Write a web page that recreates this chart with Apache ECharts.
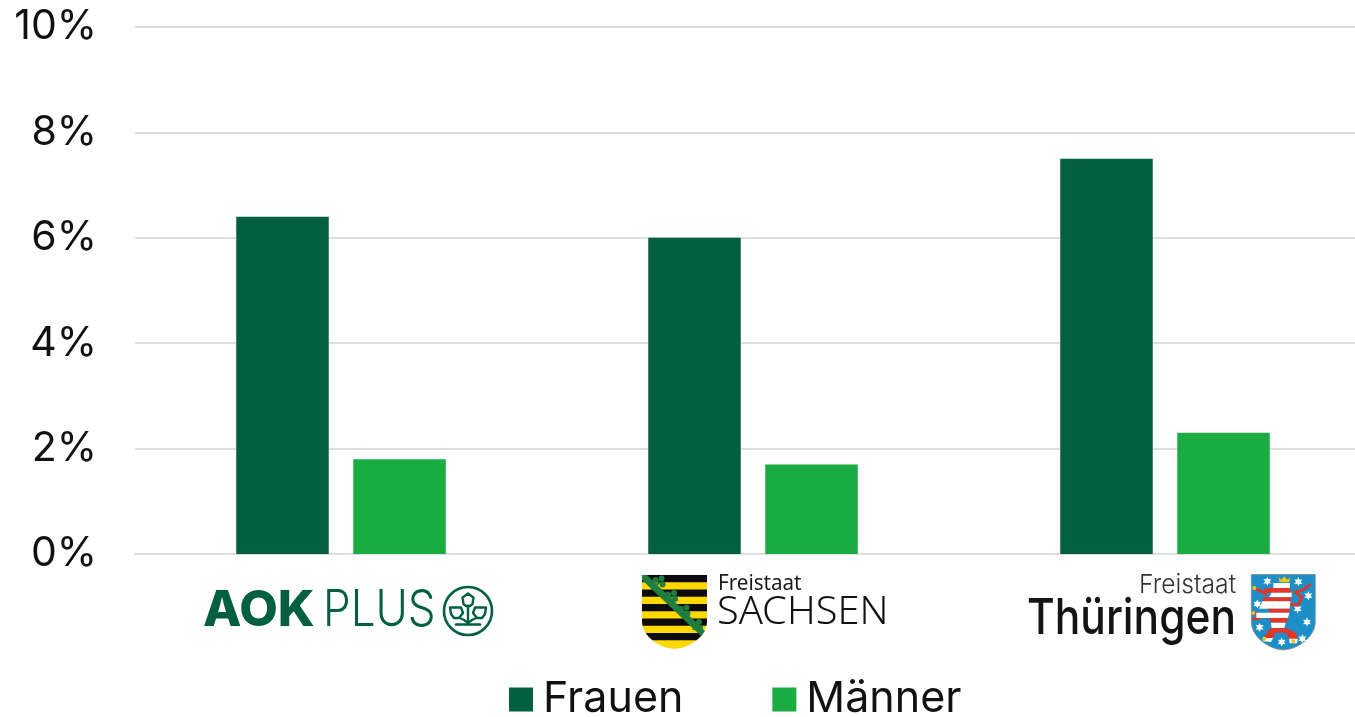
<!DOCTYPE html>
<html><head><meta charset="utf-8">
<style>html,body{margin:0;padding:0;background:#fff;overflow:hidden}#c{width:1355px;height:717px}</style>
<script src="https://cdn.jsdelivr.net/npm/echarts@6/dist/echarts.min.js"></script>
</head><body><div id="c"></div>
<script>
const categories = ['AOK PLUS', 'Freistaat Sachsen', 'Freistaat Thüringen'];
const frauen = [6.4, 6.0, 7.5];
const maenner = [1.8, 1.7, 2.3];
const seriesNames = ['Frauen', 'Männer'];
const FONT = 'Inter';
const DARK = '#025f3f', LIGHT = '#1bab43';

const g = [];
function txt(text, x, y, size, fill, opt) {
  opt = opt || {};
  g.push({type:'text', x:x, y:y, scaleX:opt.sx||1, scaleY:opt.sy||1, silent:true, z:10,
    style:{text:text, x:0, y:0, fill:fill, textAlign:'left', textVerticalAlign:'middle', verticalAlign:'middle',
      fontFamily:opt.font||FONT, fontSize:size, fontWeight:opt.w||400, fontStyle:opt.st||'normal'}});
}
function poly(points, fill, z, extra) {
  g.push({type:'polygon', silent:true, z:z||10, shape:{points:points}, style:Object.assign({fill:fill}, extra||{})});
}
function line(points, stroke, width, z) {
  g.push({type:'polyline', silent:true, z:z||10, shape:{points:points}, style:{stroke:stroke, lineWidth:width, fill:null, lineCap:'round', lineJoin:'round'}});
}
function circ(cx, cy, r, fill, z, extra) {
  g.push({type:'circle', silent:true, z:z||10, shape:{cx:cx, cy:cy, r:r}, style:Object.assign({fill:fill}, extra||{})});
}
// shield helpers
function shieldHalf(y, top, bot, hw) {
  const t = (y - top) / (bot - top);
  if (t <= 0.62) return hw;
  const u = (t - 0.62) / 0.38;
  return hw * Math.pow(Math.max(0, 1 - u * u), 0.6);
}
function shieldBand(cx, top, bot, hw, y0, y1, fill, z, extra) {
  const L = [], R = [], n = Math.max(2, Math.ceil(y1 - y0));
  for (let i = 0; i <= n; i++) {
    const y = y0 + (y1 - y0) * i / n, w = shieldHalf(y, top, bot, hw);
    L.push([cx - w, y]); R.unshift([cx + w, y]);
  }
  poly(L.concat(R), fill, z, extra);
}

// ---- AOK PLUS logo
txt('AOK', 203, 611, 50, DARK, {w:800, sx:1.0});
txt('PLUS', 323, 611, 50, DARK, {w:300, sx:0.88});
circ(468, 611, 24, 'none', 10, {stroke:DARK, lineWidth:2.6});
line([[456,624.5],[480,624.5]], DARK, 2.4);
line([[468,606],[468,624]], DARK, 2.4);
const leaf = function(x0, x1, y0, y1){
  const mx = (x0 + x1) / 2;
  poly([[mx,y0],[x1,(y0*2+y1)/3],[x1-1,y1-2],[mx+2,y1],[mx-2,y1],[x0+1,y1-2],[x0,(y0*2+y1)/3]], 'none', 10, {stroke:DARK, lineWidth:2.4, lineJoin:'round'});
};
leaf(462.5, 473.5, 593.5, 606);
poly([[450,607.5],[461,607.5],[463,613],[459,618],[454,618],[451,614]], 'none', 10, {stroke:DARK, lineWidth:2.4, lineJoin:'round'});
poly([[486,607.5],[475,607.5],[473,613],[477,618],[482,618],[485,614]], 'none', 10, {stroke:DARK, lineWidth:2.4, lineJoin:'round'});
line([[460,618],[464,620],[468,623],[472,620],[476,618]], DARK, 2.2);

// ---- Sachsen logo
(function(){
  const cx = 674.5, top = 575, bot = 649, hw = 32.5, h = 7.25;
  shieldBand(cx, top, bot, hw, top, bot, '#ffd800', 10);
  for (let i = 0; i < 5; i++) {
    const y0 = top + 2 * i * h;
    shieldBand(cx, top, bot, hw, y0, y0 + h, '#0b0b0b', 11);
  }
  poly([[642,575],[647,575],[705,631],[701,636],[642,580]], '#1f7d3f', 12);
  [[659,581.5],[671.5,596],[684,610.5],[696.5,625]].forEach(function(c){
    circ(c[0]-3.5, c[1]-1.5, 3, '#1f7d3f', 13);
    circ(c[0]+2.5, c[1]-3, 3, '#1f7d3f', 13);
    circ(c[0]+3.5, c[1]+3, 3, '#1f7d3f', 13);
    line([[c[0]-3,c[1]+4],[c[0],c[1]+1]], '#1f7d3f', 2.4, 13);
  });
})();
txt('Freistaat', 718, 584, 21, '#1a1a1a', {font:'Noto Sans', sx:0.98});
txt('SACHSEN', 717, 613, 39, '#111', {font:'Noto Sans', w:300, sx:1.02});

// ---- Thüringen logo
txt('Freistaat', 1139, 585, 26, '#333', {w:300, sx:0.95});
txt('Thüringen', 1027, 619, 50, '#141414', {w:500, sx:0.85});
(function(){
  const cx = 1283.3, top = 574.5, bot = 650, hw = 32;
  shieldBand(cx, top, bot, hw, top, bot, '#1b8fc6', 10, {stroke:'#8a8a8a', lineWidth:0.8});
  const X = function(v){return 1245 + v / 3;}, Y = function(v){return 568 + v / 3;};
  const P = function(a){return a.map(function(p){return [X(p[0]), Y(p[1])];});};
  // stars
  [[67,40],[160,41],[190,83],[37,108],[158,122],[186,162],[44,178],[110,222],[172,212]].forEach(function(s){
    const pts = [], c = [X(s[0]), Y(s[1])];
    for (let i = 0; i < 12; i++) {
      const a = i * Math.PI / 6, r = i % 2 ? 2.3 : 4.6;
      pts.push([c[0] + r * Math.sin(a), c[1] - r * Math.cos(a)]);
    }
    poly(pts, '#fff', 11);
  });
  // crown
  poly(P([[100,28],[109,35],[118,25],[127,35],[136,28],[132,43],[104,43]]), '#f3c81e', 13);
  // tail
  line(P([[136,108],[158,112],[172,88],[150,72],[174,66],[194,50]]), '#e5352b', 2.8, 11);
  // forward paws
  line(P([[28,62],[45,68],[62,78]]), '#e5352b', 3, 11);
  line(P([[26,135],[45,140],[60,138]]), '#e5352b', 3, 11);
  line(P([[26,152],[40,150],[60,145]]), '#e5352b', 3, 11);
  [[28,60],[25,135],[58,212],[145,220]].forEach(function(c){ circ(X(c[0]),Y(c[1]),2,'#f3c81e',13); });
  // striped lion body
  const bands = [
    [45,60,'#fff',[85,135],[85,134]],
    [60,74,'#e5352b',[60,134],[58,140]],
    [74,88,'#fff',[80,140],[72,140]],
    [88,100,'#e5352b',[55,140],[52,136]],
    [100,122,'#fff',[52,136],[42,134]],
    [122,134,'#e5352b',[68,134],[76,134]],
    [134,150,'#fff',[34,134],[34,128]],
    [150,164,'#e5352b',[72,128],[78,125]],
    [164,180,'#fff',[78,122],[80,118]],
    [180,194,'#e5352b',[78,122],[64,152]],
  ];
  bands.forEach(function(b){
    poly(P([[b[3][0],b[0]],[b[3][1],b[0]],[b[4][1],b[1]],[b[4][0],b[1]]]), b[2], 12);
  });
  poly(P([[64,194],[90,194],[85,212],[58,210]]), '#e5352b', 12);
  poly(P([[122,194],[152,192],[158,212],[132,214]]), '#e5352b', 12);
  poly(P([[56,210],[84,210],[78,222],[54,220]]), '#fff', 12);
  poly(P([[132,212],[158,212],[156,226],[134,226]]), '#fff', 12);
})();

const chart = echarts.init(document.getElementById('c'), null, {renderer:'canvas'});
chart.setOption({
  animation:false,
  backgroundColor:'#fff',
  grid:{left:135, top:27, width:1236, height:527, containLabel:false, outerBoundsMode:'none'},
  legend:{
    left:504, top:673, itemWidth:24, itemHeight:24, itemGap:89, icon:'rect',
    data:seriesNames, selectedMode:false,
    textStyle:{fontFamily:FONT, fontSize:43, color:'#111', padding:[0,0,0,5]}
  },
  xAxis:{type:'category', data:categories, axisTick:{show:false}, axisLabel:{show:false},
    axisLine:{lineStyle:{color:'#dedede', width:2}}},
  yAxis:{type:'value', min:0, max:10, interval:2, axisLine:{show:false}, axisTick:{show:false},
    axisLabel:{formatter:'{value}%', fontFamily:FONT, fontSize:41, color:'#111', margin:38},
    splitLine:{lineStyle:{color:'#dedede', width:2}}},
  series:[
    {name:seriesNames[0], type:'bar', data:frauen, barWidth:92.5, barGap:'26.5%', itemStyle:{color:DARK}},
    {name:seriesNames[1], type:'bar', data:maenner, barWidth:92.5, barGap:'26.5%', itemStyle:{color:LIGHT}}
  ],
  graphic:{elements:g}
});
</script></body></html>
